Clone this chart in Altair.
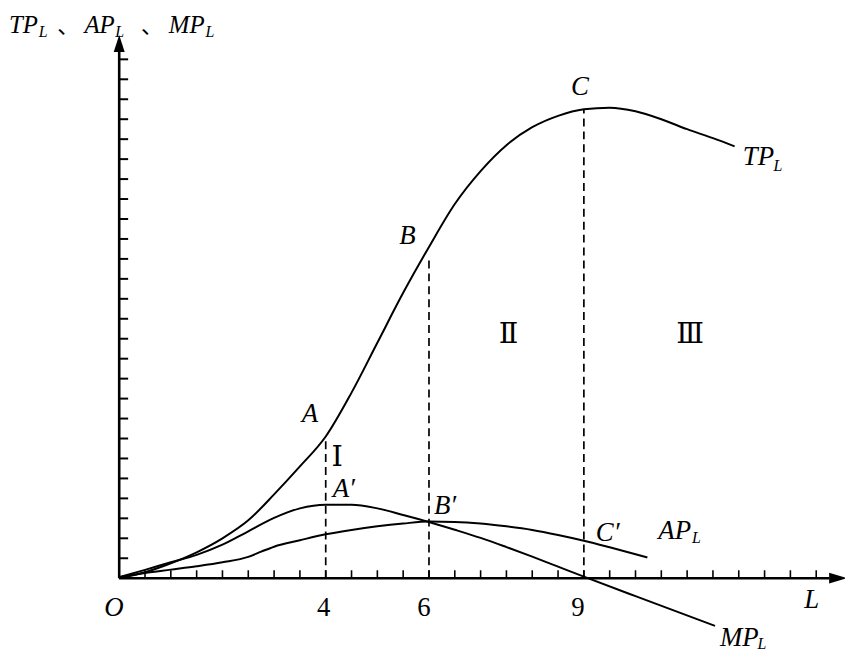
import altair as alt
import pandas as pd

# ---- curve data (L, value) ----
TP_L = [0, 0.5, 1.0, 1.5, 2.0, 2.5, 3.0, 3.5, 4.0, 4.5, 5.0, 5.5, 6.0, 6.5,
        7.0, 7.5, 8.0, 8.5, 9.0, 9.5, 10.0, 10.5, 11.0, 11.5, 11.92]
TP_Y = [0, 0.3, 0.75, 1.3, 2.0, 2.9, 4.2, 5.6, 7.1, 9.3, 11.8, 14.3, 16.6, 18.75,
        20.4, 21.7, 22.6, 23.17, 23.5, 23.58, 23.4, 23.0, 22.5, 22.05, 21.64]

MP_L = [0, 0.5, 1.0, 1.5, 2.0, 2.5, 3.0, 3.5, 4.0, 4.5, 5.0, 5.5, 6.0, 6.5, 7.0, 7.5,
        8.0, 8.5, 9.0, 10.0, 11.54]
MP_Y = [0.05, 0.42, 0.8, 1.17, 1.68, 2.35, 3.02, 3.5, 3.68, 3.68, 3.5, 3.17, 2.82, 2.43, 2.02, 1.56,
        1.08, 0.58, 0.08, -0.9, -2.39]

AP_L = [0, 0.5, 1.0, 1.5, 2.0, 2.5, 2.75, 3.0, 3.5, 4.0, 4.5, 5.0, 5.5, 6.0, 6.5, 7.0,
        7.5, 8.0, 8.5, 9.0, 9.5, 10.23]
AP_Y = [0.05, 0.26, 0.43, 0.6, 0.8, 1.07, 1.33, 1.58, 1.9, 2.2, 2.42, 2.6, 2.74, 2.84, 2.82, 2.74,
        2.6, 2.42, 2.17, 1.88, 1.55, 1.04]

# dashed guides at L = 4, 6, 9 up to TP
DASH_L = [4, 6, 9]
DASH_TOP = [7.1, 16.17, 23.5]

# axis ticks
Y_TICKS = list(range(1, 27))
X_TICKS = [i * 0.5 for i in range(1, 28)]

# ---- labels ----
ITAL_T = ["A", "B", "C", "O", "L", "A\u2032", "B\u2032", "C\u2032", "AP", "TP", "MP"]
ITAL_X = [3.538, 5.423, 8.75, -0.288, 13.269, 4.135, 6.096, 9.231, 10.442, 12.077, 11.635]
ITAL_Y = [7.81, 16.77, 24.23, -1.89, -1.49, 4.08, 3.23, 1.84, 1.99, 20.70, -3.38]

TOP_T = ["TP", "AP", "MP"]
TOP_X = [-2.135, -0.673, 0.962]
TOP_Y = [27.31, 27.31, 27.31]

SUB_T = ["L", "L", "L", "L", "L", "L"]
SUB_X = [11.096, 12.673, 12.365, -1.558, -0.077, 1.673]
SUB_Y = [1.74, 20.40, -3.53, 27.11, 27.11, 27.11]

NUM_T = ["4", "6", "9"]
NUM_X = [3.962, 5.904, 8.885]
NUM_Y = [-1.89, -1.89, -1.89]

ROM_T = ["\u2160", "\u2161", "\u2162"]
ROM_X = [4.22, 7.54, 11.06]
ROM_Y = [5.62, 11.79, 11.79]

SEP_T = ["\u3001", "\u3001"]
SEP_X = [-1.2, 0.42]
SEP_Y = [27.31, 27.31]

# ---- scales ----
W, H = 843, 643
xs = alt.Scale(domain=[-112 / 52, (W - 112) / 52], nice=False, zero=False)
ys = alt.Scale(domain=[-(H - 572) / 20.1, 572 / 20.1], nice=False, zero=False)


def X(f="x"):
    return alt.X(f + ":Q", scale=xs, axis=None)


def Y(f="y"):
    return alt.Y(f + ":Q", scale=ys, axis=None)


def curve(lx, ly):
    d = pd.DataFrame({"x": lx, "y": ly})
    return alt.Chart(d).mark_line(interpolate="monotone", color="black", strokeWidth=2).encode(
        x=X(), y=Y(), order="x:Q")


tp = curve(TP_L, TP_Y)
mp = curve(MP_L, MP_Y)
ap = curve(AP_L, AP_Y)

dash = alt.Chart(pd.DataFrame({"x": DASH_L, "y": [0] * 3, "y2": DASH_TOP})).mark_rule(
    color="black", strokeWidth=1.7, strokeDash=[8, 5]).encode(x=X(), y=Y(), y2="y2:Q")

# axes
axes_df = pd.DataFrame({"x": [0, 0], "x2": [0, 13.75], "y": [0, 0], "y2": [26.37, 0]})
axes = alt.Chart(axes_df).mark_rule(color="black", strokeWidth=2.6).encode(
    x=X(), x2="x2:Q", y=Y(), y2="y2:Q")

yt = alt.Chart(pd.DataFrame({"y": Y_TICKS})).mark_rule(color="black", strokeWidth=2).encode(
    x=alt.X("a:Q", scale=xs, axis=None), x2="b:Q", y=Y()).transform_calculate(a="0", b="9/52")
xt = alt.Chart(pd.DataFrame({"x": X_TICKS})).mark_rule(color="black", strokeWidth=1.6).encode(
    x=X(), y=alt.Y("a:Q", scale=ys, axis=None), y2="b:Q").transform_calculate(a="0", b="8/20.1")

arr_y = alt.Chart(pd.DataFrame({"x": [0], "y": [(580 - 41.5) / 20.1]})).mark_point(
    shape="M0,-1L0.65,1L-0.65,1Z", size=289, filled=True, color="black", opacity=1, strokeWidth=0
).encode(x=X(), y=Y())
arr_x = alt.Chart(pd.DataFrame({"x": [(844 - 120) / 52], "y": [0]})).mark_point(
    shape="M1,0L-1,-0.6L-1,0.6Z", size=324, filled=True, color="black", opacity=1, strokeWidth=0
).encode(x=X(), y=Y())


def texts(t, x, y, **kw):
    d = pd.DataFrame({"t": t, "x": x, "y": y})
    return alt.Chart(d).mark_text(color="black", baseline="alphabetic", **kw).encode(
        x=X(), y=Y(), text="t:N")


ital = texts(ITAL_T, ITAL_X, ITAL_Y, font="Liberation Serif", fontStyle="italic", fontSize=27, align="left")
top = texts(TOP_T, TOP_X, TOP_Y, font="Liberation Serif", fontStyle="italic", fontSize=25, align="left")
subs = texts(SUB_T, SUB_X, SUB_Y, font="Liberation Serif", fontStyle="italic", fontSize=16, align="left")
nums = texts(NUM_T, NUM_X, NUM_Y, font="Liberation Serif", fontSize=27, align="center")
roms = texts(ROM_T, ROM_X, ROM_Y, font="DejaVu Serif", fontSize=29, align="center")
seps = texts(SEP_T, SEP_X, SEP_Y, font="Noto Sans CJK SC", fontSize=22, align="left")

chart = alt.layer(axes, yt, xt, arr_y, arr_x, dash, tp, ap, mp, ital, top, subs, nums, roms, seps).properties(
    width=W, height=H, autosize=alt.AutoSizeParams(type="none"), padding=0
).configure_view(stroke=None)

chart.save("out.html", embed_options={"renderer": "svg", "actions": False})
